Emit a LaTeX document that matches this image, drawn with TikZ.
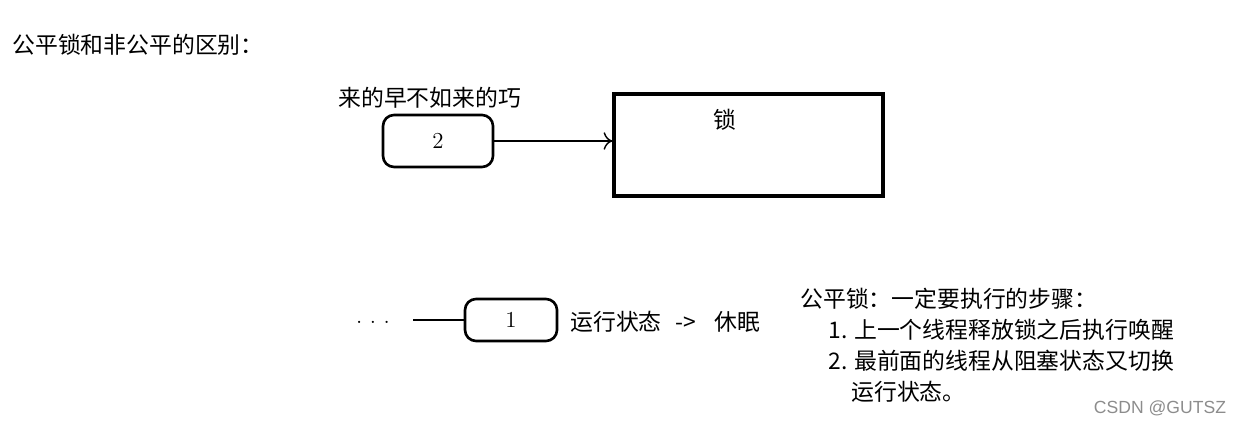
\documentclass[tikz,border=0pt]{standalone}
\usepackage{fontspec}
\newfontfamily\cjk{Noto Sans CJK SC}
\newfontfamily\wmark{Liberation Sans}
\usetikzlibrary{arrows.meta}

\tikzset{
  txt/.style={font=\cjk\fontsize{13}{17.6}\selectfont, inner sep=0pt},
  slot/.style={draw, line width=1.5pt, rounded corners=0.22cm, font=\fontsize{13}{15}\selectfont},
}

\begin{document}
\begin{tikzpicture}
\useasboundingbox (0,0) rectangle (24.8,8.46);
\node[txt, anchor=west] (title) at (0.240,7.560) {公平锁和非公平的区别：};
% upper part
\node[txt, anchor=west] (early) at (6.760,6.500) {来的早不如来的巧};
\node[slot, minimum width=2.20cm, minimum height=1.04cm] (2) at (8.760,5.640) {2};
\node[draw, line width=1.8pt, minimum width=5.38cm, minimum height=2.04cm] (lock) at (14.970,5.560) {};
\node[txt] (locktxt) at (14.500,6.060) {锁};
\draw[line width=0.8pt, -{To[length=5pt,width=10pt]}] (2.east) -- (lock.west |- 2.east);
% lower part
\node[inner sep=0pt, font=\fontsize{13}{15}\selectfont] (dots) at (7.460,2.020) {.\,\,.\,\,.};
\coordinate (tail) at (8.260,2.060);
\node[slot, minimum width=1.84cm, minimum height=0.84cm] (1) at (10.220,2.060) {1};
\draw[line width=1.6pt] (tail) -- (1.west);
\node[txt, anchor=west] (state) at (11.400,2.020) {运行状态\hspace{0.28cm}->\hspace{0.36cm}休眠};
\node[txt, anchor=north west, align=left] (steps) at (16.000,2.700)
  {公平锁：一定要执行的步骤：\\
   \hspace*{0.56cm}1. 上一个线程释放锁之后执行唤醒\\
   \hspace*{0.56cm}2. 最前面的线程从阻塞状态又切换\\
   \hspace*{1.02cm}运行状态。};
\node[inner sep=0pt, text=black!45, font=\wmark\fontsize{10}{12}\selectfont] (mark) at (23.200,0.300) {CSDN @GUTSZ};
\end{tikzpicture}
\end{document}
